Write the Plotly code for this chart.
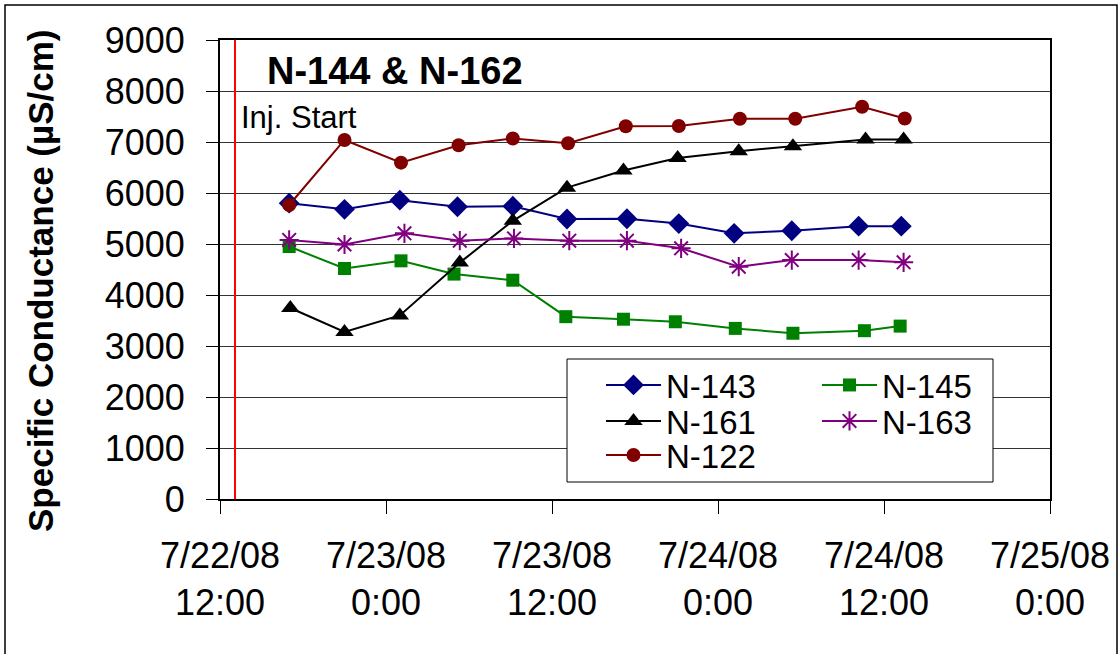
import plotly.graph_objects as go

# ---------------- data ----------------
t_143 = ["2008-07-22 17:00", "2008-07-22 21:00", "2008-07-23 01:00", "2008-07-23 05:10",
         "2008-07-23 09:10", "2008-07-23 13:05", "2008-07-23 17:25", "2008-07-23 21:10",
         "2008-07-24 01:10", "2008-07-24 05:20", "2008-07-24 10:10", "2008-07-24 13:15"]
v_143 = [5800, 5680, 5860, 5730, 5740, 5490, 5495, 5400, 5210, 5260, 5350, 5350]

t_145 = ["2008-07-22 17:00", "2008-07-22 21:00", "2008-07-23 01:05", "2008-07-23 04:55",
         "2008-07-23 09:10", "2008-07-23 13:00", "2008-07-23 17:10", "2008-07-23 20:55",
         "2008-07-24 01:15", "2008-07-24 05:25", "2008-07-24 10:35", "2008-07-24 13:10"]
v_145 = [4950, 4520, 4670, 4410, 4290, 3575, 3525, 3475, 3345, 3250, 3300, 3390]

t_161 = ["2008-07-22 17:05", "2008-07-22 21:00", "2008-07-23 01:00", "2008-07-23 05:20",
         "2008-07-23 09:10", "2008-07-23 13:05", "2008-07-23 17:10", "2008-07-23 21:05",
         "2008-07-24 01:30", "2008-07-24 05:25", "2008-07-24 10:40", "2008-07-24 13:25"]
v_161 = [3745, 3275, 3600, 4635, 5455, 6105, 6440, 6685, 6820, 6915, 7050, 7050]

t_163 = ["2008-07-22 17:00", "2008-07-22 21:00", "2008-07-23 01:20", "2008-07-23 05:20",
         "2008-07-23 09:15", "2008-07-23 13:15", "2008-07-23 17:25", "2008-07-23 21:20",
         "2008-07-24 01:30", "2008-07-24 05:20", "2008-07-24 10:10", "2008-07-24 13:25"]
v_163 = [5080, 4990, 5210, 5065, 5110, 5065, 5065, 4915, 4555, 4685, 4685, 4640]

t_122 = ["2008-07-22 17:00", "2008-07-22 21:00", "2008-07-23 01:05", "2008-07-23 05:15",
         "2008-07-23 09:10", "2008-07-23 13:10", "2008-07-23 17:20", "2008-07-23 21:10",
         "2008-07-24 01:35", "2008-07-24 05:35", "2008-07-24 10:25", "2008-07-24 13:30"]
v_122 = [5765, 7040, 6595, 6935, 7070, 6975, 7310, 7315, 7455, 7455, 7690, 7460]

inj_start = "2008-07-22 13:05"
x_range = ["2008-07-22 12:00", "2008-07-25 00:00"]
y_range = [0, 9000]

chart_title = "N-144 & N-162"
y_title = "Specific Conductance (µS/cm)"
inj_label = "Inj. Start"

FONT = "Liberation Sans, Arial, sans-serif"

# plot-area geometry in pixels (for paper-coordinate placement of decorations)
W, H = 1120, 654
L, R, T, B = 220, 70, 40, 155
PW, PH = W - L - R, H - T - B


def px(x):
    return (x - L) / PW


def py(y):
    return (H - B - y) / PH


# ---------------- figure ----------------
fig = go.Figure()

# name, times, values, colour, symbol, size, legend id, legend position (px)
series = [
    ("N-143", t_143, v_143, "#000080", "diamond", 16, "legend", (601, 385)),
    ("N-145", t_145, v_145, "#008000", "square", 13, "legend2", (817, 385)),
    ("N-161", t_161, v_161, "#000000", "triangle-up", 16, "legend3", (601, 421)),
    ("N-163", t_163, v_163, "#800080", "asterisk-open", 16, "legend4", (817, 421)),
    ("N-122", t_122, v_122, "#800000", "circle", 14, "legend5", (601, 455)),
]

legend_layouts = {}
for name, t, v, col, sym, sz, lg, (lx, ly) in series:
    fig.add_trace(go.Scatter(
        x=t, y=v, name=name, mode="lines+markers", legend=lg,
        line=dict(color=col, width=2),
        marker=dict(symbol=sym, size=sz, color=col,
                    line=dict(color=col, width=2 if "open" in sym else 0)),
    ))
    legend_layouts[lg] = dict(
        x=px(lx), y=py(ly), xanchor="left", yanchor="middle",
        bgcolor="rgba(0,0,0,0)", borderwidth=0, itemwidth=55,
        font=dict(family=FONT, size=33, color="black"),
    )

# legend frame
fig.add_shape(type="rect", xref="paper", yref="paper",
              x0=px(567), x1=px(993), y0=py(482), y1=py(359),
              line=dict(color="#000000", width=1), fillcolor="white", layer="above")

# injection start vertical line
fig.add_shape(type="line", xref="x", yref="y",
              x0=inj_start, x1=inj_start, y0=y_range[0], y1=y_range[1],
              line=dict(color="#ff0000", width=2), layer="above")

# outer border of the chart
fig.add_shape(type="rect", xref="paper", yref="paper",
              x0=px(5), x1=px(1117), y0=py(670), y1=py(5),
              line=dict(color="#000000", width=1.5), fillcolor="rgba(0,0,0,0)")

fig.add_annotation(text="<b>" + chart_title + "</b>", xref="paper", yref="paper",
                   x=px(395), y=py(71), xanchor="center", yanchor="middle",
                   showarrow=False, font=dict(family=FONT, size=38, color="black"))

fig.add_annotation(text=inj_label, xref="paper", yref="paper",
                   x=px(239), y=py(118), xanchor="left", yanchor="middle",
                   showarrow=False, font=dict(family=FONT, size=31, color="black"))

fig.add_annotation(text="<b>" + y_title + "</b>", xref="paper", yref="paper",
                   x=px(40), y=py(281), xanchor="center", yanchor="middle",
                   textangle=-90, showarrow=False,
                   font=dict(family=FONT, size=35, color="black"))

fig.update_layout(
    width=W, height=H,
    margin=dict(l=L, r=R, t=T, b=B, autoexpand=False),
    paper_bgcolor="white", plot_bgcolor="white",
    font=dict(family=FONT, color="black"),
    showlegend=True,
    xaxis=dict(
        type="date", range=x_range, dtick=12 * 3600 * 1000,
        tick0="2008-07-22 12:00",
        tickformat="%-m/%-d/%y<br>%-H:%M",
        showgrid=False, zeroline=False,
        showline=True, linecolor="black", linewidth=2, mirror=True,
        ticks="outside", ticklen=13, tickcolor="black", tickwidth=1,
        ticklabelstandoff=11,
        tickfont=dict(family=FONT, size=36, color="black"),
        automargin=False,
    ),
    yaxis=dict(
        range=y_range, dtick=1000, tick0=0,
        showgrid=True, gridcolor="#333333", gridwidth=1,
        zeroline=False,
        showline=True, linecolor="black", linewidth=2, mirror=True,
        ticks="outside", ticklen=12, tickcolor="black", tickwidth=1,
        ticklabelstandoff=14,
        tickfont=dict(family=FONT, size=36, color="black"),
        automargin=False,
    ),
    **legend_layouts,
)

# remove the browser's default 8px body margin so the figure sits at the page origin
fig.write_html("out.html",
               config={"displayModeBar": False},
               post_script="document.body.style.margin='0';document.body.style.overflow='hidden';")
